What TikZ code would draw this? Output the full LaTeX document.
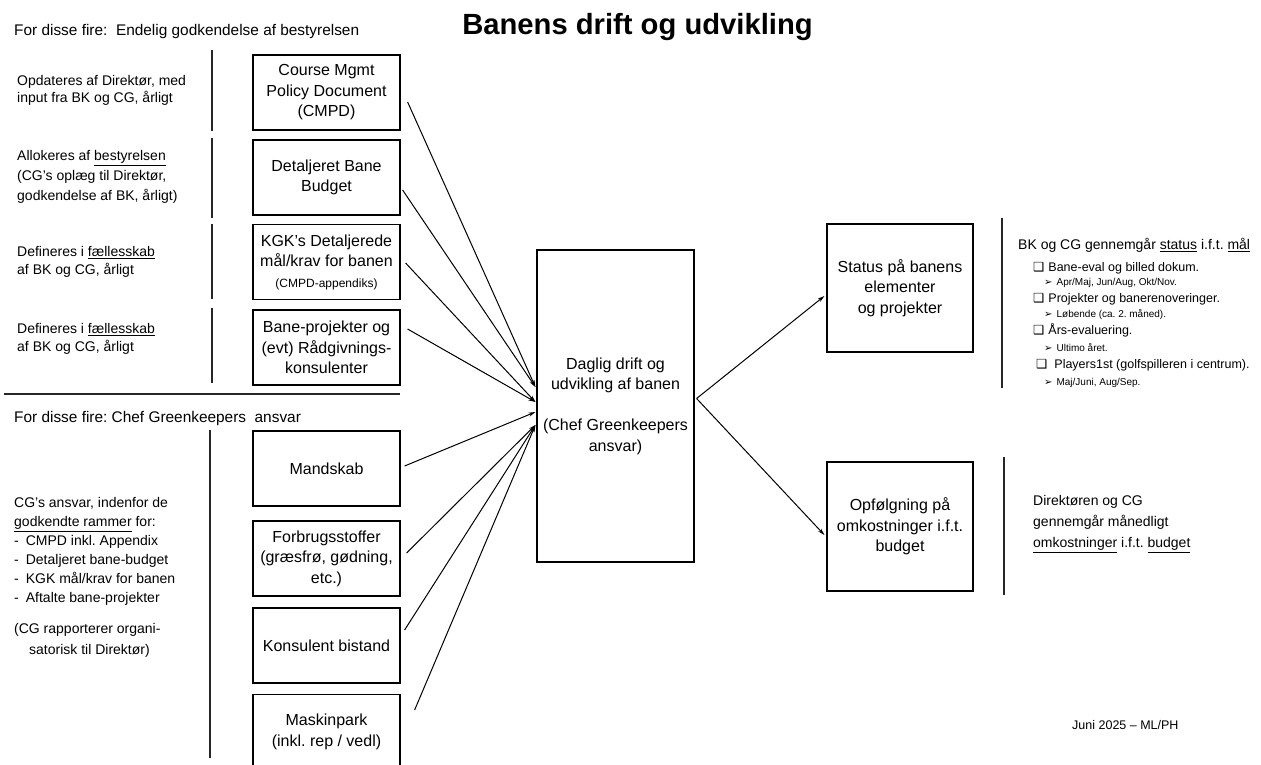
\documentclass[tikz,border=0pt]{standalone}
\usepackage{fontspec}
\setmainfont{Liberation Sans}
\newfontfamily\symfont{DejaVu Sans}
\usetikzlibrary{arrows.meta}
\frenchspacing

\begin{document}
\begin{tikzpicture}[x=1pt,y=-1pt,
  boxstyle/.style={draw,line width=1.2pt,minimum width=147pt,minimum height=75pt,inner sep=0pt,align=center,font=\fontsize{16}{20.5}\selectfont},
  notestyle/.style={anchor=west,align=left,inner sep=0pt,font=\fontsize{14}{18}\selectfont},
  itemstyle/.style={anchor=west,inner sep=0pt,font=\fontsize{12.5}{15}\selectfont},
  substyle/.style={anchor=west,inner sep=0pt,font=\fontsize{10}{12}\selectfont},
  arrowstyle/.style={-{Stealth[length=7pt,width=4pt]},line width=1pt},
  sepstyle/.style={line width=1.2pt,black!85}]
  \useasboundingbox (0,0) rectangle (1261,765);
  \clip (0,0) rectangle (1261,765);

  % overskrifter
  \node[anchor=base,font=\bfseries\fontsize{29.2}{35}\selectfont] (title) at (637.5,35) {Banens drift og udvikling};
  \node[anchor=base west,inner sep=0pt,font=\fontsize{15.4}{18}\selectfont] (hdtop) at (14,36) {For disse fire:\ \ Endelig godkendelse af bestyrelsen};
  \node[anchor=base west,inner sep=0pt,font=\fontsize{15.4}{18}\selectfont] (hdbot) at (14,422) {For disse fire: Chef Greenkeepers\ \ ansvar};

  % venstre kasser
  \foreach \name/\yy/\txt in {cmpd/92.5/{Course Mgmt\\Policy Document\\(CMPD)},
      budget/177.5/{Detaljeret Bane\\Budget},
      kgk/262/{KGK’s Detaljerede\\mål/krav for banen\\{\fontsize{12}{14}\selectfont(CMPD-appendiks)}},
      bane/347.5/{Bane-projekter og\\(evt) Rådgivnings-\\konsulenter},
      mandskab/468.5/{Mandskab},
      forbrug/558.5/{Forbrugsstoffer\\(græsfrø, gødning,\\etc.)},
      konsulent/645.5/{Konsulent bistand},
      maskin/732/{Maskinpark\\(inkl. rep / vedl)}}
    \node[boxstyle] (\name) at (326.5,\yy) {\txt};

  % midte og hoejre
  \node[boxstyle,minimum width=157pt,minimum height=312pt] (daglig) at (615.5,406) {Daglig drift og\\udvikling af banen\\[20.5pt](Chef Greenkeepers\\ansvar)};
  \node[boxstyle,minimum width=146pt,minimum height=128pt] (status) at (900,288) {Status på banens\\elementer\\og projekter};
  \node[boxstyle,minimum width=146pt,minimum height=129pt] (opf) at (900,526.5) {Opfølgning på\\omkostninger i.f.t.\\budget};

  % noter til venstre
  \node[notestyle,font=\fontsize{14}{17.6}\selectfont] (opd) at (17,90.5) {Opdateres af Direktør, med\\input fra BK og CG, årligt};
  \node[notestyle,font=\fontsize{14}{20}\selectfont] (allok) at (17,177) {Allokeres af \underline{bestyrelsen}\\(CG’s oplæg til Direktør,\\godkendelse af BK, årligt)};
  \foreach \yy [count=\i] in {262,339}
    \node[notestyle] (def\i) at (17,\yy) {Defineres i \underline{fællesskab}\\af BK og CG, årligt};
  \node[notestyle,font=\fontsize{14}{19}\selectfont] (cgnote) at (14,577.5) {CG’s ansvar, indenfor de\\\underline{godkendte rammer} for:\\-\hspace*{7pt}CMPD inkl. Appendix\\-\hspace*{7pt}Detaljeret bane-budget\\-\hspace*{7pt}KGK mål/krav for banen\\-\hspace*{7pt}Aftalte bane-projekter\\[12pt](CG rapporterer organi-\\[2pt]\hspace*{15pt}satorisk til Direktør)};

  % skillelinjer
  \foreach \ya/\yb in {50/131,138/218,224/299,308/383}
    \draw[sepstyle] (212,\ya) -- (212,\yb);
  \draw[sepstyle] (210,430) -- (210,758);
  \draw[sepstyle] (4,394) -- (400,394);
  \draw[sepstyle] (1002,218) -- (1002,388);
  \draw[sepstyle] (1004,457) -- (1004,595);

  % status-liste
  \node[anchor=west,inner sep=0pt,font=\fontsize{14}{17}\selectfont] (statushd) at (1018,245) {BK og CG gennemgår \underline{status} i.f.t. \underline{mål}};
  \foreach \yy/\txt [count=\i] in {268/{Bane-eval og billed dokum.},299/{Projekter og banerenoveringer.},330/{Års-evaluering.}}
    \node[itemstyle] (item\i) at (1033,\yy) {{\symfont ❑}\hspace{4pt}\txt};
  \node[itemstyle] (item4) at (1036,365) {{\symfont ❑}\hspace{7pt}Players1st (golfspilleren i centrum).};
  \foreach \yy/\txt [count=\i] in {283/{Apr/Maj, Jun/Aug, Okt/Nov.},315/{Løbende (ca. 2. måned).},347.5/{Ultimo året.},383/{Maj/Juni, Aug/Sep.}}
    \node[substyle] (sub\i) at (1044,\yy) {{\symfont ➢}\hspace{4pt}\txt};

  \node[notestyle,font=\fontsize{14}{21}\selectfont] (review) at (1033,524) {Direktøren og CG\\gennemgår månedligt\\\underline{omkostninger} i.f.t. \underline{budget}};
  \node[anchor=west,inner sep=0pt,font=\fontsize{12.5}{15}\selectfont] (dato) at (1072,725) {Juni 2025 – ML/PH};

  % pile
  \foreach \src/\sx/\sy/\dy in {cmpd/7/9.5/-19,budget/2/12.5/-19,kgk/5/1/-4,bane/7/-18.5/-4,
      mandskab/4/-2.5/6,forbrug/6/-5.5/19,konsulent/4/-15.5/19,maskin/14/-22/19}
    \draw[arrowstyle] ([shift={(\sx,\sy)}]\src.east) -- ([shift={(-1,\dy)}]daglig.west);
  \draw[arrowstyle] ([shift={(2,-7.5)}]daglig.east) -- ([shift={(-2,8)}]status.west);
  \draw[arrowstyle] ([shift={(2,-7.5)}]daglig.east) -- ([shift={(-2,8.5)}]opf.west);
\end{tikzpicture}
\end{document}
